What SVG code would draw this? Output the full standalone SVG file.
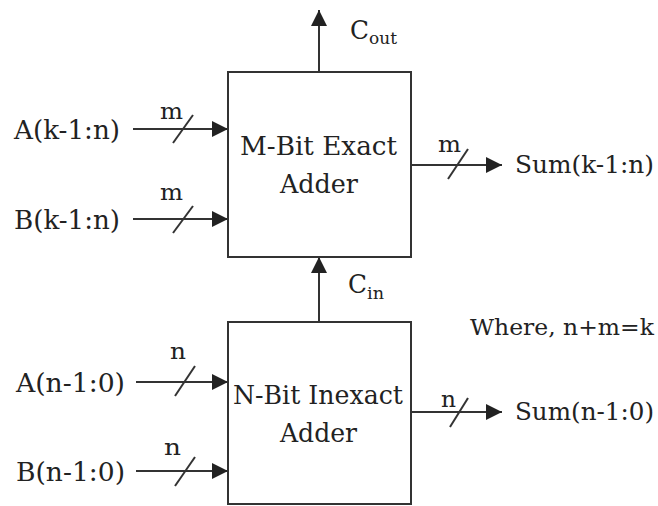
<svg xmlns="http://www.w3.org/2000/svg" width="658" height="506" viewBox="0 0 658 506">
  <defs>
    <marker id="arrow" viewBox="0 0 16 16" refX="16" refY="8" markerWidth="16" markerHeight="16" markerUnits="userSpaceOnUse" orient="auto">
      <path d="M0,0 L16,8 L0,16 Z" fill="#222"/>
    </marker>
  </defs>
  <style>
    .box { fill: #fff; stroke: #333; stroke-width: 2; }
    .wire { stroke: #333; stroke-width: 2; fill: none; }
    .bus { stroke: #333; stroke-width: 2; }
    text { font-family: 'DejaVu Serif', 'Liberation Serif', serif; fill: #222; font-size: 26px; }
    .w { font-size: 23px; }
    .sub { font-size: 17px; }
    .out { font-size: 24.5px; }
    .note { font-size: 23px; }
  </style>

  <rect width="658" height="506" fill="#fff"/>

  <!-- connectors -->
  <g id="connectors">
    <!-- carry out -->
    <line class="wire" x1="319" y1="72" x2="319" y2="10" marker-end="url(#arrow)"/>
    <!-- carry from inexact part into exact part -->
    <line class="wire" x1="319" y1="322" x2="319" y2="257" marker-end="url(#arrow)"/>
    <!-- upper operand inputs -->
    <line class="wire" x1="133" y1="129" x2="228" y2="129" marker-end="url(#arrow)"/>
    <line class="wire" x1="133" y1="219" x2="228" y2="219" marker-end="url(#arrow)"/>
    <!-- lower operand inputs -->
    <line class="wire" x1="136" y1="382" x2="228" y2="382" marker-end="url(#arrow)"/>
    <line class="wire" x1="136" y1="471" x2="228" y2="471" marker-end="url(#arrow)"/>
    <!-- sum outputs -->
    <line class="wire" x1="411" y1="165" x2="502" y2="165" marker-end="url(#arrow)"/>
    <line class="wire" x1="411" y1="412" x2="502" y2="412" marker-end="url(#arrow)"/>

    <!-- bus width slashes -->
    <line class="bus" x1="173" y1="143" x2="193" y2="115"/>
    <line class="bus" x1="173" y1="233" x2="193" y2="206"/>
    <line class="bus" x1="175" y1="396" x2="195" y2="366"/>
    <line class="bus" x1="175" y1="486" x2="195" y2="457"/>
    <line class="bus" x1="448" y1="179" x2="468" y2="149"/>
    <line class="bus" x1="450" y1="427" x2="468" y2="398"/>

    <!-- bus width labels -->
    <text class="w" x="160" y="119" textLength="23" lengthAdjust="spacingAndGlyphs">m</text>
    <text class="w" x="160" y="200" textLength="23" lengthAdjust="spacingAndGlyphs">m</text>
    <text class="w" x="170" y="359" textLength="16" lengthAdjust="spacingAndGlyphs">n</text>
    <text class="w" x="164" y="455" textLength="17" lengthAdjust="spacingAndGlyphs">n</text>
    <text class="w" x="438" y="152" textLength="23" lengthAdjust="spacingAndGlyphs">m</text>
    <text class="w" x="441" y="407" textLength="15" lengthAdjust="spacingAndGlyphs">n</text>

    <!-- carry labels -->
    <text x="350" y="39" textLength="19" lengthAdjust="spacingAndGlyphs">C</text>
    <text class="sub" x="369" y="44" textLength="28" lengthAdjust="spacingAndGlyphs">out</text>
    <text x="348" y="293" textLength="19" lengthAdjust="spacingAndGlyphs">C</text>
    <text class="sub" x="367" y="299" textLength="17" lengthAdjust="spacingAndGlyphs">in</text>
  </g>

  <!-- signal names -->
  <g id="signals">
    <text x="14" y="139" textLength="106" lengthAdjust="spacingAndGlyphs">A(k-1:n)</text>
    <text x="14" y="229" textLength="106" lengthAdjust="spacingAndGlyphs">B(k-1:n)</text>
    <text x="16" y="392" textLength="109" lengthAdjust="spacingAndGlyphs">A(n-1:0)</text>
    <text x="16" y="481" textLength="109" lengthAdjust="spacingAndGlyphs">B(n-1:0)</text>
    <text class="out" x="515" y="173" textLength="139" lengthAdjust="spacingAndGlyphs">Sum(k-1:n)</text>
    <text class="out" x="515" y="420" textLength="139" lengthAdjust="spacingAndGlyphs">Sum(n-1:0)</text>
    <text class="note" x="470" y="335" textLength="184" lengthAdjust="spacingAndGlyphs">Where, n+m=k</text>
  </g>

  <!-- exact adder for the upper bits -->
  <g id="exact-adder">
    <rect class="box" x="228" y="72" width="183" height="185"/>
    <text x="240" y="155" textLength="157" lengthAdjust="spacingAndGlyphs">M-Bit Exact</text>
    <text x="280" y="193" textLength="78" lengthAdjust="spacingAndGlyphs">Adder</text>
  </g>

  <!-- inexact adder for the lower bits -->
  <g id="inexact-adder">
    <rect class="box" x="228" y="322" width="183" height="182"/>
    <text x="233" y="404" textLength="170" lengthAdjust="spacingAndGlyphs">N-Bit Inexact</text>
    <text x="280" y="442" textLength="77" lengthAdjust="spacingAndGlyphs">Adder</text>
  </g>
</svg>
